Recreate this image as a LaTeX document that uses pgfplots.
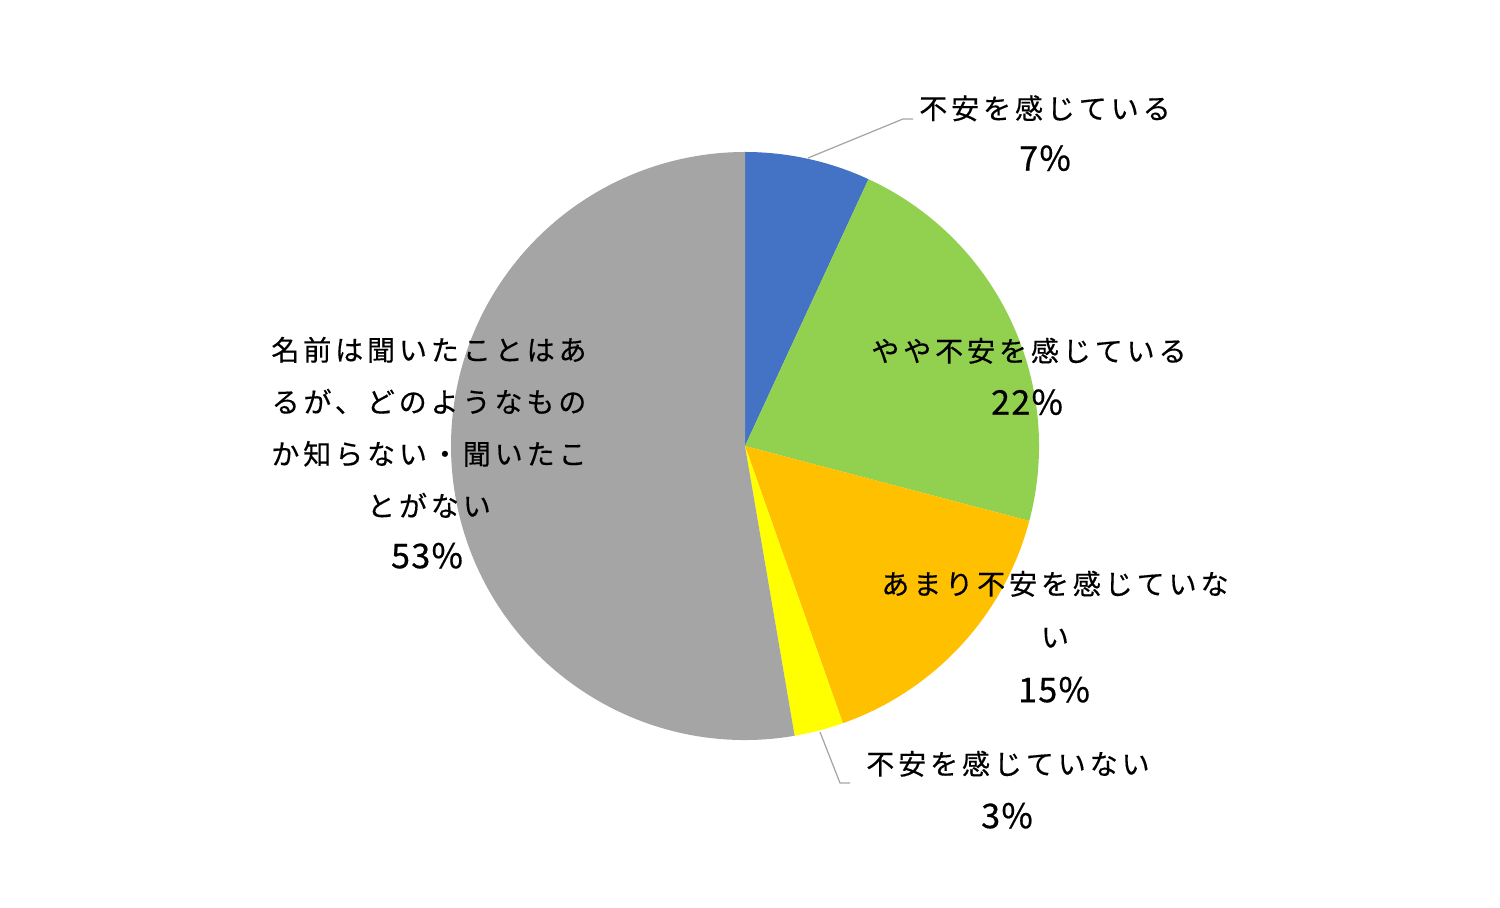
\documentclass[border=0pt]{standalone}
\usepackage{pgfplots}
\pgfplotsset{compat=1.18}
\usepackage{fontspec}
\newfontfamily\jp{Noto Sans CJK JP}[LetterSpace=14, FakeBold=0.4]
\newfontfamily\jpn{Noto Sans CJK JP}[LetterSpace=4, FakeBold=0.6]
\definecolor{cBlue}{HTML}{4472C4}
\definecolor{cGreen}{HTML}{92D050}
\definecolor{cOrange}{HTML}{FFC000}
\definecolor{cYellow}{HTML}{FFFF00}
\definecolor{cGray}{HTML}{A5A5A5}
\definecolor{cLine}{HTML}{A6A6A6}
% shares (percent), clockwise from 12 o'clock
\def\vA{6.9}\def\vB{22.2}\def\vC{15.5}\def\vD{2.7}\def\vE{52.7}
\begin{document}
\begin{tikzpicture}
\pgfmathsetmacro\aO{90}
\pgfmathsetmacro\aA{\aO-3.6*\vA}
\pgfmathsetmacro\aB{\aA-3.6*\vB}
\pgfmathsetmacro\aC{\aB-3.6*\vC}
\pgfmathsetmacro\aD{\aC-3.6*\vD}
\pgfmathsetmacro\aE{\aD-3.6*\vE}
\def\R{117.6pt}
\tikzset{lab/.style={inner sep=0pt, anchor=center, font=\jp\fontsize{11.2pt}{13pt}\selectfont, text height=0.88em, text depth=0.12em},
pct/.style={inner sep=0pt, anchor=center, font=\jpn\fontsize{13.6pt}{16pt}\selectfont, text height=0.733em, text depth=0pt}}
\begin{axis}[scale only axis, width=600pt, height=363.2pt,
  xmin=0, xmax=1500, ymin=0, ymax=908, hide axis, clip=false]
\draw[draw=none] (rel axis cs:0,0) rectangle (rel axis cs:1,1);
\addplot[fill=cBlue, draw=none] coordinates {(745,462)} -- ++(\aO:\R) arc[start angle=\aO, end angle=\aA, radius=\R] -- cycle;
\addplot[fill=cGreen, draw=none] coordinates {(745,462)} -- ++(\aA:\R) arc[start angle=\aA, end angle=\aB, radius=\R] -- cycle;
\addplot[fill=cOrange, draw=none] coordinates {(745,462)} -- ++(\aB:\R) arc[start angle=\aB, end angle=\aC, radius=\R] -- cycle;
\addplot[fill=cYellow, draw=none] coordinates {(745,462)} -- ++(\aC:\R) arc[start angle=\aC, end angle=\aD, radius=\R] -- cycle;
\addplot[fill=cGray, draw=none] coordinates {(745,462)} -- ++(\aD:\R) arc[start angle=\aD, end angle=\aE, radius=\R] -- cycle;
% leader lines
\draw[cLine, line width=0.5pt] (axis cs:808,750) -- (axis cs:903,789) -- (axis cs:913,789);
\draw[cLine, line width=0.5pt] (axis cs:820,176) -- (axis cs:840,125) -- (axis cs:850,125);
% labels
\node[lab] at (axis cs:1045,798.5) {不安を感じている};
\node[pct] at (axis cs:1045,746.5) {7\%};
\node[lab] at (axis cs:1029,556) {やや不安を感じている};
\node[pct] at (axis cs:1027,502.5) {22\%};
\node[lab] at (axis cs:1055,323) {あまり不安を感じていな};
\node[lab] at (axis cs:1055,270) {い};
\node[pct] at (axis cs:1054,215) {15\%};
\node[lab] at (axis cs:1008,143) {不安を感じていない};
\node[pct] at (axis cs:1007,89) {3\%};
\node[lab] at (axis cs:429,557) {名前は聞いたことはあ};
\node[lab] at (axis cs:429,505) {るが、どのようなもの};
\node[lab] at (axis cs:429,453) {か知らない・聞いたこ};
\node[lab] at (axis cs:429,401) {とがない};
\node[pct] at (axis cs:427,349) {53\%};
\end{axis}
\end{tikzpicture}
\end{document}
